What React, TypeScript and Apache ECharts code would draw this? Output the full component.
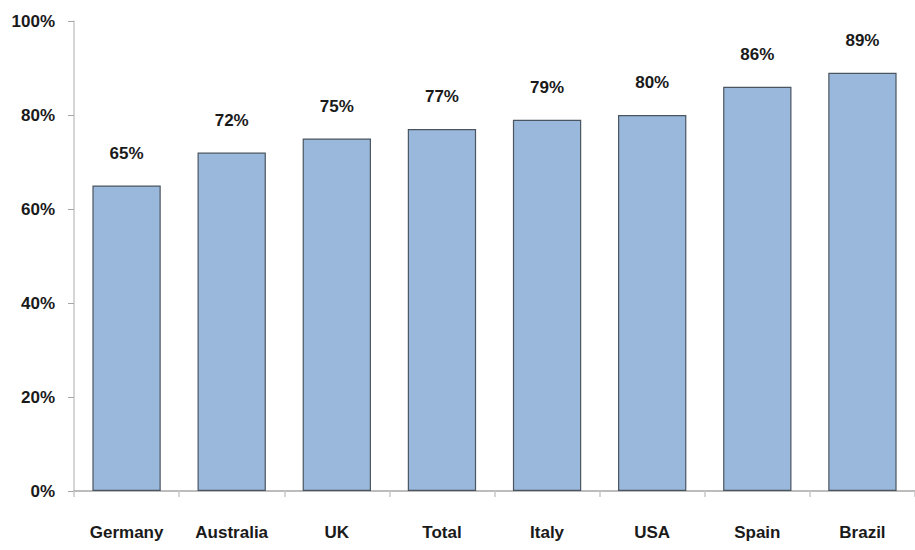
import React, { useEffect, useRef } from "react";
import * as echarts from "echarts";

const categories = ["Germany", "Australia", "UK", "Total", "Italy", "USA", "Spain", "Brazil"];
const values = [65, 72, 75, 77, 79, 80, 86, 89];

const FONT = "'Liberation Sans', Arial, sans-serif";

export default function App() {
  const ref = useRef<HTMLDivElement>(null);
  useEffect(() => {
    if (!ref.current) return;
    const chart = echarts.init(ref.current, undefined, { renderer: "svg" });
    chart.setOption({
      animation: false,
      backgroundColor: "#ffffff",
      grid: { left: 74, top: 21, width: 850, height: 470 },
      xAxis: {
        type: "category",
        data: categories,
        axisLine: { lineStyle: { color: "#a6a6a6", width: 1.5 } },
        axisTick: { show: true, alignWithLabel: false, length: 6, lineStyle: { color: "#c8c8c8", width: 1.5 } },
        axisLabel: { interval: 0, color: "#1a1a1a", fontFamily: FONT, fontWeight: "bold", fontSize: 17, margin: 33 },
      },
      yAxis: {
        type: "value",
        min: 0,
        max: 100,
        interval: 20,
        splitLine: { show: false },
        axisLine: { show: true, lineStyle: { color: "#c8c8c8", width: 1.5 } },
        axisTick: { show: true, length: 6, lineStyle: { color: "#a6a6a6" } },
        axisLabel: { formatter: "{value}%", color: "#1a1a1a", fontFamily: FONT, fontWeight: "bold", fontSize: 17, margin: 19 },
      },
      series: [
        {
          type: "bar",
          data: values,
          barCategoryGap: "35%",
          itemStyle: { color: "#9ab8db", borderColor: "#4a5560", borderWidth: 1.2 },
          label: {
            show: true,
            position: "top",
            distance: 24,
            formatter: "{c}%",
            color: "#1a1a1a",
            fontFamily: FONT,
            fontWeight: "bold",
            fontSize: 17,
          },
        },
      ],
    });
    return () => chart.dispose();
  }, []);
  return <div ref={ref} style={{ width: 915, height: 550, position: "absolute", left: 0, top: 0 }} />;
}
